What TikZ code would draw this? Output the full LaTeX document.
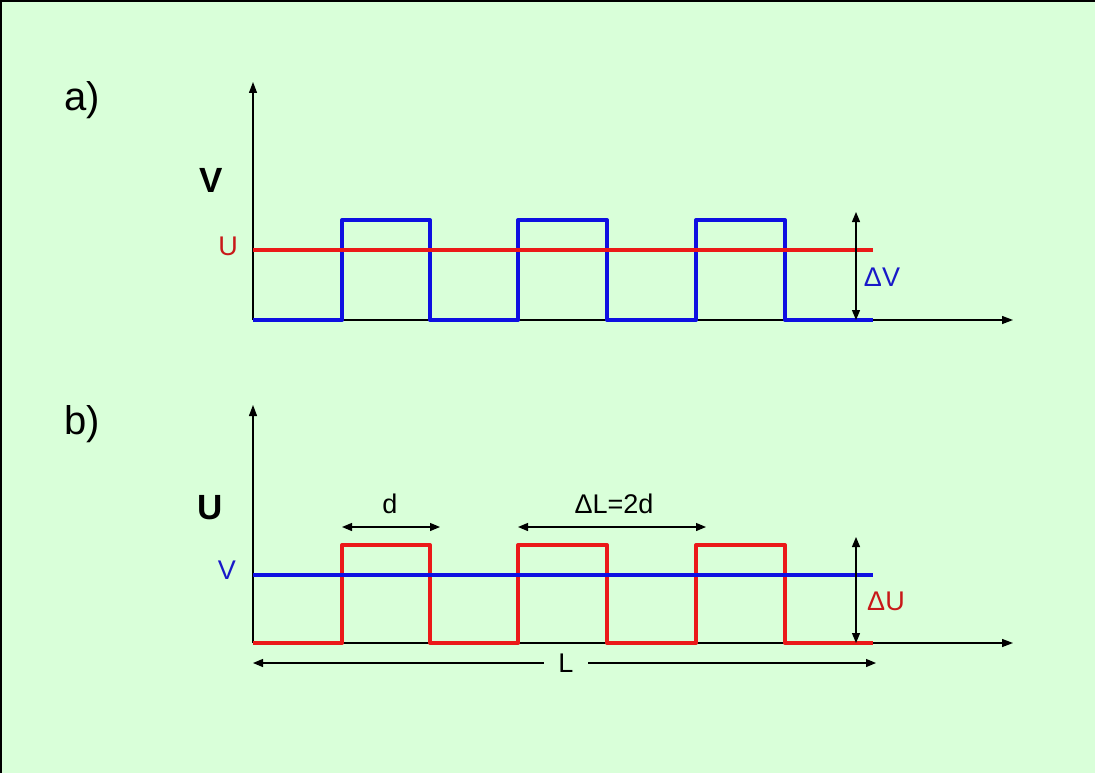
\documentclass[tikz,border=0pt]{standalone}
\usepackage{fontspec}
\setmainfont{Liberation Sans}
\usetikzlibrary{arrows.meta,positioning}
\definecolor{bgGreen}{RGB}{217,255,217}
\definecolor{waveBlue}{RGB}{15,15,225}
\definecolor{waveRed}{RGB}{235,25,25}
\definecolor{textRed}{RGB}{200,25,25}
\definecolor{textBlue}{RGB}{25,25,200}

\begin{document}
\begin{tikzpicture}[
    x=1pt, y=-1pt,
    axis/.style={line width=1.3pt, -{Triangle[length=11pt,width=8pt]}},
    dim/.style={line width=1.2pt, {Triangle[length=10pt,width=8pt]}-{Triangle[length=10pt,width=8pt]}},
    wave/.style={line width=4pt, line join=round},
    panel/.style={font=\fontsize{40}{44}\selectfont, inner sep=0pt},
    quantity/.style={font=\fontsize{35}{38}\selectfont\bfseries, inner sep=0pt},
    lbl/.style={font=\fontsize{27}{30}\selectfont, inner sep=0pt}
]
\useasboundingbox (0,0) rectangle (1095,773);
% Background and frame
\fill[bgGreen] (0,0) rectangle (1095,773);
\draw[line width=2.5pt] (1.2,773) -- (1.2,1.2) -- (1095,1.2);

% ---------- a) ----------
\node[panel] (labA) at (82,100) {a)};
\coordinate (oA) at (253,320);
\coordinate (yA) at (253,82);
\coordinate (xA) at (1013,320);
\draw[axis] (oA) -- (yA);
\draw[axis] (oA) -- (xA);

% Square wave V
\draw[wave, waveBlue] (253,320) -- (342,320) -- (342,220) -- (430,220) -- (430,320)
    -- (518,320) -- (518,220) -- (607,220) -- (607,320)
    -- (696,320) -- (696,220) -- (785,220) -- (785,320) -- (873,320);
% Constant U
\coordinate (uA1) at (253,250);
\coordinate (uA2) at (873,250);
\draw[wave, waveRed] (uA1) -- (uA2);

\node[quantity] (qV) at (211,180) {V};
\node[lbl, text=textRed] (lU) at (228,246) {U};

% Amplitude
\coordinate (dVtop) at (856,212);
\coordinate (dVbot) at (856,320);
\draw[dim] (dVtop) -- (dVbot);
\node[lbl, text=textBlue] (dV) at (882,277) {ΔV};

% ---------- b) ----------
\node[panel] (labB) at (82,424) {b)};
\coordinate (oB) at (253,643);
\coordinate (yB) at (253,405);
\coordinate (xB) at (1013,643);
\draw[axis] (oB) -- (yB);
\draw[axis] (oB) -- (xB);

% Square wave U
\draw[wave, waveRed] (253,643) -- (342,643) -- (342,545) -- (430,545) -- (430,643)
    -- (518,643) -- (518,545) -- (607,545) -- (607,643)
    -- (696,643) -- (696,545) -- (785,545) -- (785,643) -- (873,643);
% Constant V
\coordinate (vB1) at (253,575);
\coordinate (vB2) at (873,575);
\draw[wave, waveBlue] (vB1) -- (vB2);

\node[quantity] (qU) at (210,508) {U};
\node[lbl, text=textBlue] (lV) at (227,570) {V};

% Amplitude
\coordinate (dUtop) at (856,537);
\coordinate (dUbot) at (856,643);
\draw[dim] (dUtop) -- (dUbot);
\node[lbl, text=textRed] (dU) at (886,601) {ΔU};

% Widths
\coordinate (d1) at (342,527);
\coordinate (d2) at (440,527);
\draw[dim] (d1) -- (d2);
\node[lbl] (dlab) at (390,504) {d};

\coordinate (p1) at (518,527);
\coordinate (p2) at (706,527);
\draw[dim] (p1) -- (p2);
\node[lbl] (plab) at (614,504) {ΔL=2d};

% Total length
\coordinate (L1) at (253,663);
\coordinate (L2) at (876,663);
\draw[dim] (L1) -- (L2);
\node[lbl, fill=bgGreen, inner xsep=14pt, inner ysep=4pt] (Llab) at (566,663) {L};
\end{tikzpicture}
\end{document}
